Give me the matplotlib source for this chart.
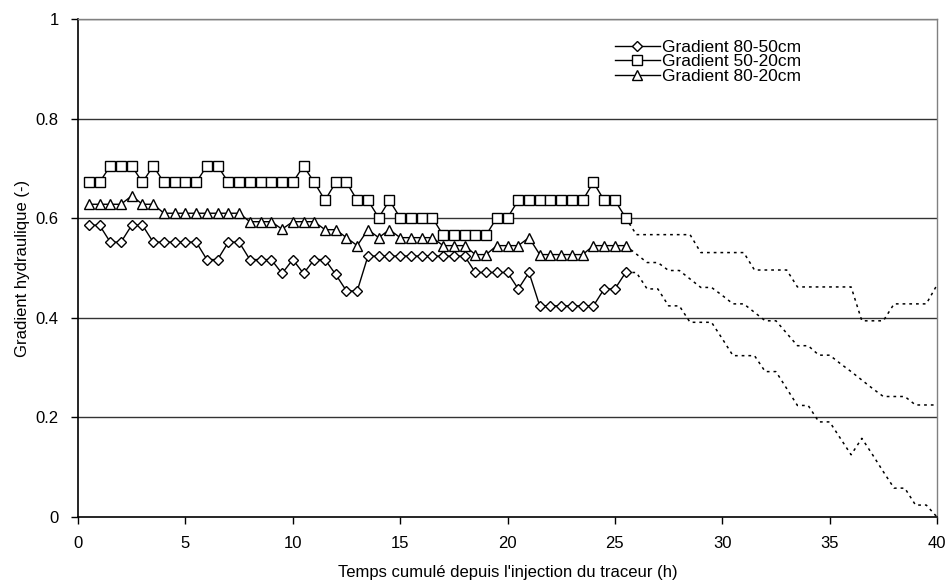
import matplotlib
matplotlib.use("Agg")
import matplotlib.pyplot as plt

plt.rcParams['font.family'] = ['Liberation Sans', 'DejaVu Sans']

# measured period (h)
t_mes = [0.5, 1.0, 1.5, 2.0, 2.5, 3.0, 3.5, 4.0, 4.5, 5.0,
         5.5, 6.0, 6.5, 7.0, 7.5, 8.0, 8.5, 9.0, 9.5, 10.0,
         10.5, 11.0, 11.5, 12.0, 12.5, 13.0, 13.5, 14.0, 14.5, 15.0,
         15.5, 16.0, 16.5, 17.0, 17.5, 18.0, 18.5, 19.0, 19.5, 20.0,
         20.5, 21.0, 21.5, 22.0, 22.5, 23.0, 23.5, 24.0, 24.5, 25.0,
         25.5]

grad_80_50 = [0.586, 0.586, 0.552, 0.552, 0.586, 0.586, 0.552, 0.552, 0.552, 0.552,
              0.552, 0.517, 0.517, 0.552, 0.552, 0.517, 0.517, 0.517, 0.489, 0.517,
              0.489, 0.517, 0.517, 0.487, 0.454, 0.454, 0.524, 0.524, 0.524, 0.524,
              0.524, 0.524, 0.524, 0.524, 0.524, 0.524, 0.491, 0.491, 0.491, 0.491,
              0.458, 0.491, 0.424, 0.424, 0.424, 0.424, 0.424, 0.424, 0.458, 0.458,
              0.491]

grad_50_20 = [0.672, 0.672, 0.705, 0.705, 0.705, 0.672, 0.705, 0.672, 0.672, 0.672,
              0.672, 0.705, 0.705, 0.672, 0.672, 0.672, 0.672, 0.672, 0.672, 0.672,
              0.705, 0.672, 0.636, 0.672, 0.672, 0.636, 0.636, 0.601, 0.636, 0.601,
              0.601, 0.601, 0.601, 0.566, 0.566, 0.566, 0.566, 0.566, 0.601, 0.601,
              0.636, 0.636, 0.636, 0.636, 0.636, 0.636, 0.636, 0.672, 0.636, 0.636,
              0.601]

grad_80_20 = [0.628, 0.628, 0.628, 0.628, 0.645, 0.628, 0.628, 0.610, 0.610, 0.610,
              0.610, 0.610, 0.610, 0.610, 0.610, 0.593, 0.593, 0.593, 0.578, 0.593,
              0.593, 0.593, 0.577, 0.577, 0.561, 0.545, 0.577, 0.561, 0.577, 0.561,
              0.561, 0.561, 0.561, 0.545, 0.545, 0.545, 0.527, 0.527, 0.545, 0.545,
              0.545, 0.561, 0.527, 0.527, 0.527, 0.527, 0.527, 0.545, 0.545, 0.545,
              0.545]

# extrapolated period (h)
t_ext = [25.5, 26.0, 26.5, 27.0, 27.5, 28.0, 28.5, 29.0, 29.5, 30.0,
         30.5, 31.0, 31.5, 32.0, 32.5, 33.0, 33.5, 34.0, 34.5, 35.0,
         35.5, 36.0, 36.5, 37.0, 37.5, 38.0, 38.5, 39.0, 39.5, 40.0]

ext_80_50 = [0.491, 0.491, 0.458, 0.458, 0.424, 0.424, 0.391, 0.391, 0.391, 0.358,
             0.324, 0.324, 0.324, 0.292, 0.292, 0.258, 0.224, 0.224, 0.191, 0.191,
             0.158, 0.125, 0.158, 0.125, 0.091, 0.058, 0.058, 0.024, 0.024, 0.0]

ext_50_20 = [0.601, 0.567, 0.567, 0.567, 0.567, 0.567, 0.567, 0.531, 0.531, 0.531,
             0.531, 0.531, 0.496, 0.496, 0.496, 0.496, 0.462, 0.462, 0.462, 0.462,
             0.462, 0.462, 0.394, 0.394, 0.394, 0.428, 0.428, 0.428, 0.428, 0.466]

ext_80_20 = [0.545, 0.528, 0.511, 0.511, 0.495, 0.495, 0.478, 0.461, 0.461, 0.445,
             0.428, 0.428, 0.411, 0.394, 0.394, 0.369, 0.344, 0.344, 0.325, 0.325,
             0.308, 0.292, 0.275, 0.258, 0.242, 0.242, 0.242, 0.225, 0.225, 0.225]

labels = ["Gradient 80-50cm", "Gradient 50-20cm", "Gradient 80-20cm"]

fig = plt.figure(figsize=(9.46, 5.85), dpi=100)
ax = fig.add_axes([0.0825, 0.1162, 0.908, 0.8513])

for yv in [0.2, 0.4, 0.6, 0.8, 1.0]:
    ax.axhline(yv, color="#333333", lw=1.0, zorder=1)

mk = dict(color="black", lw=1.0, markerfacecolor="white", markeredgecolor="black",
          markeredgewidth=1.0, zorder=3)
ax.plot(t_mes, grad_80_50, marker="D", markersize=5.5, label=labels[0], **mk)
ax.plot(t_mes, grad_50_20, marker="s", markersize=6.5, label=labels[1], **mk)
ax.plot(t_mes, grad_80_20, marker="^", markersize=7, label=labels[2], **mk)

dots = dict(color="black", lw=1.1, linestyle=(0, (1.8, 2.6)), zorder=2)
ax.plot(t_ext, ext_80_50, **dots)
ax.plot(t_ext, ext_50_20, **dots)
ax.plot(t_ext, ext_80_20, **dots)

ax.set_xlim(0, 40)
ax.set_ylim(0, 1)
ax.set_xticks([0, 5, 10, 15, 20, 25, 30, 35, 40])
ax.set_yticks([0, 0.2, 0.4, 0.6, 0.8, 1])
ax.set_yticklabels(["0", "0.2", "0.4", "0.6", "0.8", "1"])
ax.tick_params(axis="both", direction="out", length=5, width=1, labelsize=12, pad=9)

for side in ["left", "bottom"]:
    ax.spines[side].set_color("black")
    ax.spines[side].set_linewidth(1.2)
for side in ["top", "right"]:
    ax.spines[side].set_color("#808080")
    ax.spines[side].set_linewidth(1.0)

ax.set_xlabel("Temps cumulé depuis l'injection du traceur (h)", fontsize=12, labelpad=10)
ax.set_ylabel("Gradient hydraulique (-)", fontsize=12, labelpad=4)

ax.legend(loc="upper left", bbox_to_anchor=(0.625, 0.958), frameon=False, fontsize=12.5,
          handlelength=2.6, handletextpad=0.1, labelspacing=-0.05, borderpad=0,
          borderaxespad=0)

plt.savefig("out.png", dpi=100)
plt.close()
